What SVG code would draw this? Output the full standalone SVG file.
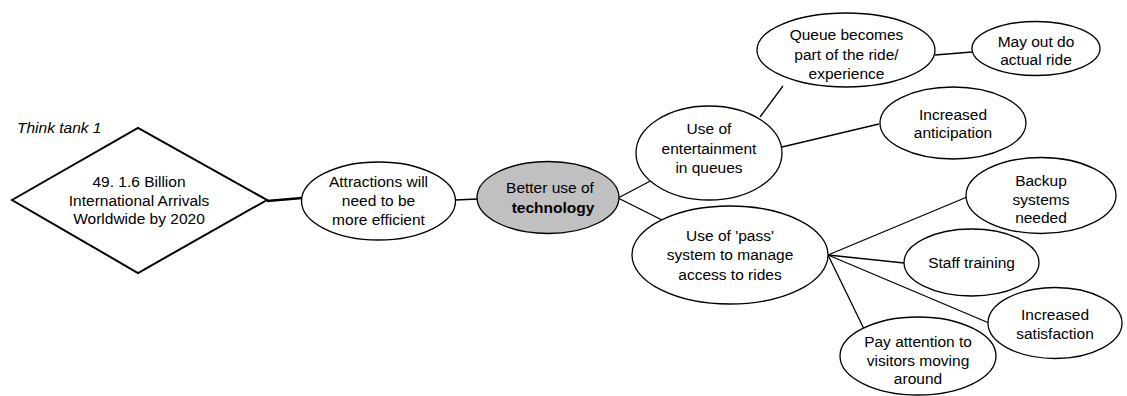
<svg xmlns="http://www.w3.org/2000/svg" width="1127" height="396" viewBox="0 0 1127 396">
<style>
.n{fill:#fff;stroke:#000;stroke-width:1.3}
.g{fill:#c0c0c0;stroke:#000;stroke-width:1.3}
.d{fill:#fff;stroke:#000;stroke-width:2}
text{font-family:"Liberation Sans",Arial,sans-serif;font-size:15.5px;fill:#000;text-anchor:middle}
.b{font-weight:bold}
.it{font-style:italic;text-anchor:start}
#connectors line{stroke:#000;stroke-width:1.3}
</style>
<rect width="1127" height="396" fill="#fff"/>
<text class="it" x="17" y="132.5">Think tank 1</text>
<g id="connectors">
<line x1="267" y1="201" x2="302" y2="198" style="stroke-width:2.5"/>
<line x1="455" y1="200" x2="478" y2="199"/>
<line x1="618" y1="198" x2="658" y2="177"/>
<line x1="618" y1="198" x2="662" y2="220"/>
<line x1="760" y1="117" x2="783" y2="86"/>
<line x1="935" y1="55" x2="972" y2="52"/>
<line x1="782" y1="147" x2="879" y2="124"/>
<line x1="828" y1="255" x2="967" y2="197"/>
<line x1="828" y1="255" x2="904" y2="263"/>
<line x1="828" y1="255" x2="989" y2="323"/>
<line x1="828" y1="255" x2="864" y2="329"/>
</g>
<g id="diamond">
<polygon class="d" points="12,200 138,128 267,200 138,273"/>
<text x="139" y="187">49. 1.6 Billion</text>
<text x="139" y="205.5">International Arrivals</text>
<text x="139" y="224">Worldwide by 2020</text>
</g>
<g id="attractions">
<ellipse class="n" cx="378.5" cy="201" rx="77" ry="39"/>
<text x="378.5" y="187">Attractions will</text>
<text x="378.5" y="206">need to be</text>
<text x="378.5" y="225">more efficient</text>
</g>
<g id="technology">
<ellipse class="g" cx="548" cy="197.5" rx="71" ry="36"/>
<text x="550" y="192.5">Better use of</text>
<text class="b" x="553" y="212.5">technology</text>
</g>
<g id="entertainment">
<ellipse class="n" cx="709" cy="153" rx="73" ry="47"/>
<text x="709" y="134">Use of</text>
<text x="709" y="153.5">entertainment</text>
<text x="709" y="173">in queues</text>
</g>
<g id="queue">
<ellipse class="n" cx="846" cy="50" rx="89" ry="37"/>
<text x="846.5" y="40">Queue becomes</text>
<text x="846.5" y="59.5">part of the ride/</text>
<text x="846.5" y="79">experience</text>
</g>
<g id="mayout">
<ellipse class="n" cx="1036" cy="48.5" rx="64" ry="27"/>
<text x="1036" y="46.5">May out do</text>
<text x="1036" y="65">actual ride</text>
</g>
<g id="anticipation">
<ellipse class="n" cx="953" cy="123" rx="73" ry="36"/>
<text x="953" y="119.5">Increased</text>
<text x="953" y="137.5">anticipation</text>
</g>
<g id="pass">
<ellipse class="n" cx="730" cy="255" rx="98" ry="49"/>
<text x="730" y="240.5">Use of 'pass'</text>
<text x="730" y="260">system to manage</text>
<text x="730" y="279.5">access to rides</text>
</g>
<g id="backup">
<ellipse class="n" cx="1041" cy="195.5" rx="75" ry="38"/>
<text x="1041" y="186">Backup</text>
<text x="1041" y="204.5">systems</text>
<text x="1041" y="223">needed</text>
</g>
<g id="staff">
<ellipse class="n" cx="971.5" cy="262.5" rx="67.5" ry="33.5"/>
<text x="971.5" y="268">Staff training</text>
</g>
<g id="satisfaction">
<ellipse class="n" cx="1055" cy="323" rx="67" ry="35.5"/>
<text x="1055" y="320">Increased</text>
<text x="1055" y="338.5">satisfaction</text>
</g>
<g id="attention">
<ellipse class="n" cx="918" cy="356" rx="78" ry="39"/>
<text x="918" y="346.5">Pay attention to</text>
<text x="918" y="365.5">visitors moving</text>
<text x="918" y="384">around</text>
</g>
</svg>
